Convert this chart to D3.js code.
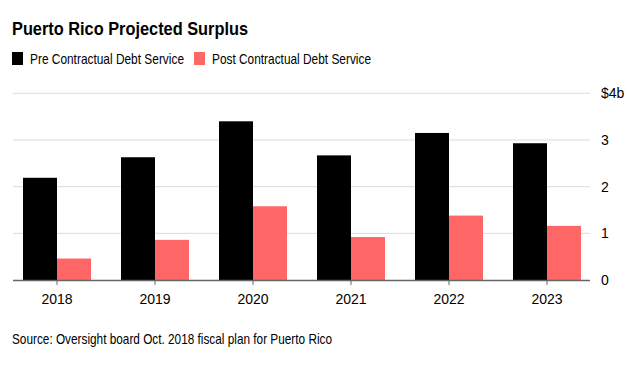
<!DOCTYPE html>
<html><head><meta charset="utf-8">
<script src="https://cdn.jsdelivr.net/npm/d3@7"></script>
<style>body{margin:0;background:#fff;} svg{display:block;font-family:"Liberation Sans",Arial,sans-serif;}</style>
</head><body><svg id="c" width="643" height="368"></svg>
<script>
const years = ["2018","2019","2020","2021","2022","2023"];
const preValues = [2.19, 2.63, 3.40, 2.67, 3.15, 2.93];
const postValues = [0.46, 0.86, 1.58, 0.92, 1.38, 1.16];
const seriesNames = ["Pre Contractual Debt Service","Post Contractual Debt Service"];
const seriesColors = ["#000000","#ff6666"];
const yTicks = [0,1,2,3,4];
const yTickLabels = ["0","1","2","3","$4b"];

(function(){
const svg = d3.select("#c");
const pLeft = 13, pRight = 591, pTop = 93.3, pBottom = 280;
const x0 = d3.scaleBand().domain(years).range([pLeft, pRight]).paddingInner(0.306).paddingOuter(0.102);
const x1 = d3.scaleBand().domain([0,1]).range([0, x0.bandwidth()]);
const y = d3.scaleLinear().domain([0,4]).range([pBottom, pTop]);

svg.append("text").attr("x",12).attr("y",35).text("Puerto Rico Projected Surplus")
  .attr("font-weight","bold").attr("font-size",19).attr("fill","#000")
  .attr("textLength",236).attr("lengthAdjust","spacingAndGlyphs");

const legX = [12, 194];
const legW = [154, 159];
seriesNames.forEach((n,i)=>{
  svg.append("rect").attr("x",legX[i]).attr("y",52).attr("width",11).attr("height",13).attr("fill",seriesColors[i]);
  svg.append("text").attr("x",legX[i]+18).attr("y",64).text(n).attr("font-size",15).attr("fill","#000")
    .attr("textLength",legW[i]).attr("lengthAdjust","spacingAndGlyphs");
});

svg.append("g").selectAll("line").data(yTicks.filter(d=>d>0)).join("line")
  .attr("x1",pLeft).attr("x2",590).attr("y1",d=>y(d)).attr("y2",d=>y(d))
  .attr("stroke","#dcdcdc").attr("stroke-width",1);

svg.append("g").selectAll("text").data(yTicks).join("text")
  .attr("x",601).attr("y",d=>y(d)).attr("dy","0.35em").text((d,i)=>yTickLabels[i])
  .attr("font-size",14).attr("fill","#000");

const g = svg.append("g");
years.forEach((yr,i)=>{
  [preValues[i], postValues[i]].forEach((v,s)=>{
    g.append("rect").attr("x",x0(yr)+x1(s)).attr("width",x1.bandwidth())
      .attr("y",y(v)).attr("height",y(0)-y(v)).attr("fill",seriesColors[s]);
  });
});

const xa = svg.append("g").attr("transform",`translate(0,${pBottom})`)
  .call(d3.axisBottom(x0).tickSize(5).tickSizeOuter(0));
xa.select(".domain").attr("d",`M${pLeft},0.5H590`).attr("stroke","#666").attr("stroke-width",1.5);
xa.selectAll(".tick line").attr("stroke","#666");
xa.selectAll(".tick text").attr("font-size",14).attr("fill","#000").attr("font-family","Liberation Sans, Arial, sans-serif").attr("dy","1.15em");

svg.append("text").attr("x",12).attr("y",344).text("Source: Oversight board Oct. 2018 fiscal plan for Puerto Rico")
  .attr("font-size",15).attr("fill","#000")
  .attr("textLength",320).attr("lengthAdjust","spacingAndGlyphs");
})();
</script></body></html>
